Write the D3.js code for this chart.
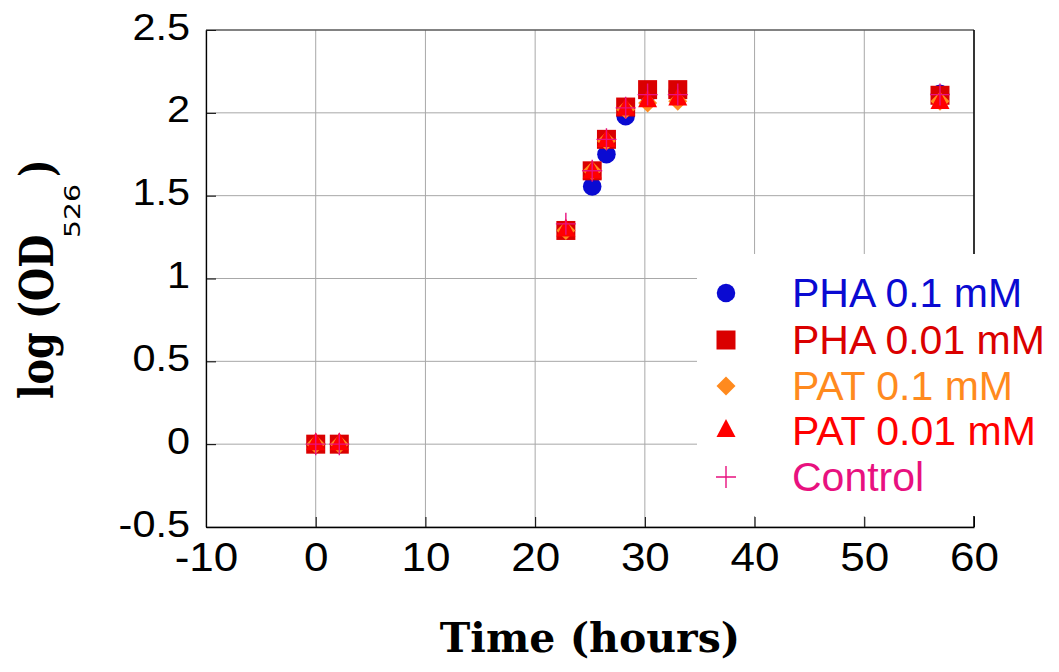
<!DOCTYPE html>
<html>
<head>
<meta charset="utf-8">
<script src="https://cdn.jsdelivr.net/npm/d3@7"></script>
<style>
  html, body { margin: 0; padding: 0; background: #fff; }
  svg { display: block; }
</style>
</head>
<body>
<svg id="chart"></svg>
<script>
"use strict";

// /////// DATA
const times = [0, 2.15, 22.8, 25.2, 26.5, 28.25, 30.25, 33.0, 56.9];

const phaHigh = [0, 0, 1.29, 1.555, 1.75, 1.98, 2.12, 2.13, 2.115];
const phaLow = [0, 0, 1.29, 1.65, 1.84, 2.035, 2.14, 2.14, 2.106];
const patHigh = [0, 0, 1.29, 1.65, 1.83, 2.02, 2.06, 2.07, 2.07];
const patLow = [0, 0, 1.29, 1.64, 1.83, 2.02, 2.07, 2.08, 2.06];
const control = [0, 0, 1.33, 1.65, 1.84, 2.03, 2.11, 2.11, 2.11];

const seriesNames = ["PHA 0.1 mM", "PHA 0.01 mM", "PAT 0.1 mM", "PAT 0.01 mM", "Control"];
const seriesColors = ["#0a0ad2", "#da0000", "#ff8a1e", "#ff0000", "#e8117f"];
const seriesShapes = ["circle", "square", "diamond", "triangle", "cross"];
const seriesValues = [phaHigh, phaLow, patHigh, patLow, control];

const xTicks = [-10, 0, 10, 20, 30, 40, 50, 60];
const yTicks = [-0.5, 0, 0.5, 1, 1.5, 2, 2.5];

// /////// LAYOUT
const width = 1059;
const height = 672;
const plot = { left: 206, right: 974, top: 30, bottom: 527 };

const svg = d3.select("#chart").attr("width", width).attr("height", height);

const x = d3.scaleLinear().domain([-10, 60]).range([plot.left, plot.right]);
const y = d3.scaleLinear().domain([-0.5, 2.5]).range([plot.bottom, plot.top]);

// Grid lines
const grid = svg.append("g").attr("stroke", "#a8a8a8").attr("stroke-width", 1);
grid
  .selectAll(".vgrid")
  .data(xTicks)
  .join("line")
  .attr("x1", (d) => x(d))
  .attr("x2", (d) => x(d))
  .attr("y1", plot.top)
  .attr("y2", plot.bottom);
grid
  .selectAll(".hgrid")
  .data(yTicks)
  .join("line")
  .attr("x1", plot.left)
  .attr("x2", plot.right)
  .attr("y1", (d) => y(d))
  .attr("y2", (d) => y(d));

// Axes - inward ticks, labels styled after (plain hyphen for negatives)
const xAxis = svg
  .append("g")
  .attr("transform", `translate(0, ${plot.bottom})`)
  .call(d3.axisBottom(x).tickValues(xTicks).tickSizeInner(-10).tickSizeOuter(0).tickFormat((d) => String(d)));

const yAxis = svg
  .append("g")
  .attr("transform", `translate(${plot.left}, 0)`)
  .call(d3.axisLeft(y).tickValues(yTicks).tickSizeInner(-10).tickSizeOuter(0).tickFormat((d) => String(d)));

[xAxis, yAxis].forEach((ax) => {
  ax.select(".domain").attr("stroke", "#000").attr("stroke-width", 1.3);
  ax.selectAll(".tick line").attr("stroke", "#000").attr("stroke-width", 1);
  ax.selectAll("text")
    .attr("fill", "#000")
    .style("font-family", "'Liberation Sans', Arial, sans-serif");
});

xAxis.selectAll("text").attr("y", null).attr("dy", null)
  .attr("transform", "translate(0, 44) scale(1.1, 1)")
  .style("font-size", "40px");

yAxis.selectAll("text").attr("x", null).attr("dy", null)
  .attr("text-anchor", "end")
  .attr("transform", "translate(-16, 9) scale(1.12, 1)")
  .style("font-size", "37px");

// Top and right frame
svg.append("line")
  .attr("x1", plot.left).attr("x2", plot.right)
  .attr("y1", plot.top).attr("y2", plot.top)
  .attr("stroke", "#333").attr("stroke-width", 1);
svg.append("line")
  .attr("x1", plot.right).attr("x2", plot.right)
  .attr("y1", plot.top).attr("y2", plot.bottom)
  .attr("stroke", "#000").attr("stroke-width", 1.5);

// Marker paths
const markerPath = {
  circle: d3.symbol().type(d3.symbolCircle).size(270)(),
  square: "M-9.5,-9.5H9.5V9.5H-9.5Z",
  diamond: "M0,-9.5L9.5,0L0,9.5L-9.5,0Z",
  triangle: "M0,-12L9.5,6L-9.5,6Z",
};

function drawMarker(sel, shape, color) {
  if (shape === "cross") {
    sel.append("path")
      .attr("d", "M-10,0H10M0,-11V11")
      .attr("stroke", color)
      .attr("stroke-width", 1.4)
      .attr("fill", "none");
  } else {
    sel.append("path").attr("d", markerPath[shape]).attr("fill", color);
  }
}

// Data points, series drawn in legend order
seriesValues.forEach((vals, i) => {
  const pts = svg
    .append("g")
    .selectAll("g")
    .data(times.map((t, j) => ({ t, v: vals[j] })))
    .join("g")
    .attr("transform", (d) => `translate(${x(d.t)}, ${y(d.v)})`);
  drawMarker(pts, seriesShapes[i], seriesColors[i]);
});

// Legend with white box covering the plot corner
const legend = svg.append("g");
legend.append("rect")
  .attr("x", 697).attr("y", 254)
  .attr("width", width - 697).attr("height", 262)
  .attr("fill", "#fff");

const rowY = [293, 340, 386, 431, 477];
seriesNames.forEach((name, i) => {
  const row = legend.append("g").attr("transform", `translate(726, ${rowY[i]})`);
  drawMarker(row, seriesShapes[i], seriesColors[i]);
  row.append("text")
    .attr("x", 66)
    .attr("y", 14)
    .attr("fill", seriesColors[i])
    .style("font-family", "'Liberation Sans', Arial, sans-serif")
    .style("font-size", "41px")
    .text(name);
});

// Axis titles
svg.append("text")
  .attr("x", 590)
  .attr("y", 652)
  .attr("text-anchor", "middle")
  .style("font-family", "'DejaVu Serif', serif")
  .style("font-weight", "bold")
  .style("font-size", "41px")
  .text("Time (hours)");

// Rotated y title built from three pieces so the subscript can sit lower
const yTitle = svg.append("g").style("font-family", "'DejaVu Serif', serif");
yTitle.append("text")
  .attr("transform", "translate(53, 399) rotate(-90) scale(0.83, 1)")
  .style("font-weight", "bold")
  .style("font-size", "46px")
  .text("log (OD");
yTitle.append("text")
  .attr("transform", "translate(80, 238) rotate(-90) scale(1.35, 1)")
  .style("font-family", "'DejaVu Sans', sans-serif")
  .style("font-size", "21px")
  .text("526");
yTitle.append("text")
  .attr("transform", "translate(53, 177) rotate(-90) scale(0.8, 1)")
  .style("font-weight", "bold")
  .style("font-size", "46px")
  .text(")");
</script>
</body>
</html>
